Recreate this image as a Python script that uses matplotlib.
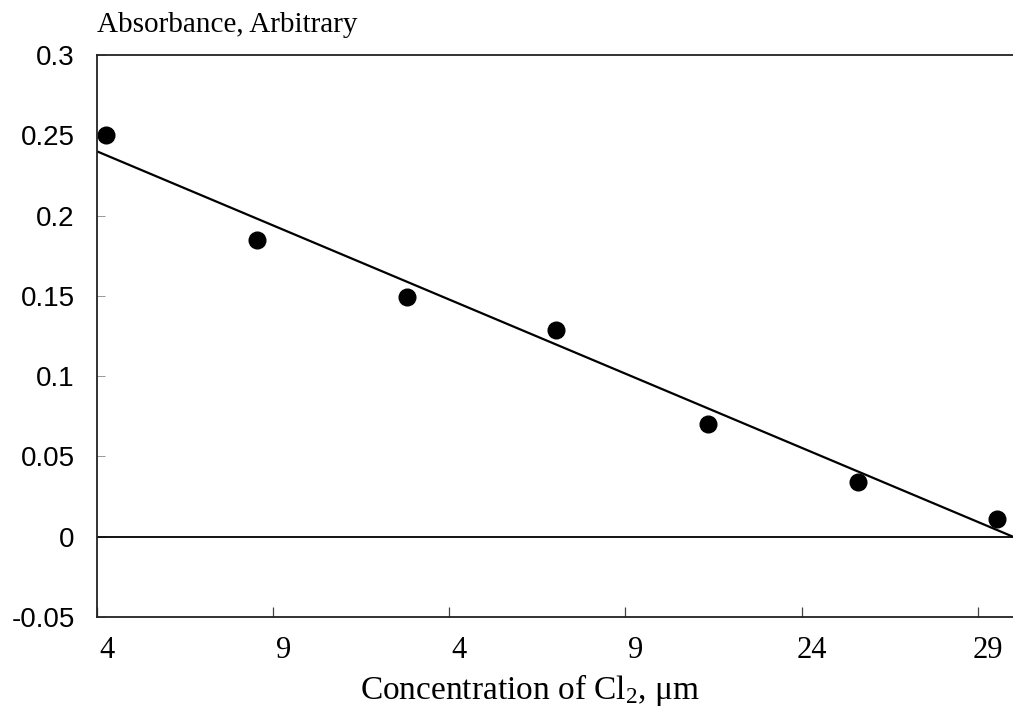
import matplotlib
matplotlib.use("Agg")
import matplotlib.pyplot as plt
import matplotlib.transforms as mtransforms

# Measured absorbance versus chlorine concentration
concentration = [4.26, 8.55, 12.8, 17.04, 21.33, 25.6, 29.54]
absorbance = [0.250, 0.185, 0.149, 0.129, 0.070, 0.034, 0.011]

# Linear fit endpoints
fit_x = [4, 30]
fit_y = [0.240, 0.0]

x_ticks = [4, 9, 14, 19, 24, 29]
x_tick_labels = ["4", "9", "4", "9", "24", "29"]
y_ticks = [-0.05, 0, 0.05, 0.1, 0.15, 0.2, 0.25, 0.3]
y_tick_labels = ["-0.05", "0", "0.05", "0.1", "0.15", "0.2", "0.25", "0.3"]

plt.rcParams["font.family"] = ["Liberation Serif", "DejaVu Serif"]
plt.rcParams["mathtext.fontset"] = "custom"
plt.rcParams["mathtext.rm"] = "Liberation Serif"
plt.rcParams["mathtext.it"] = "Liberation Serif:italic"

fig = plt.figure(figsize=(10.13, 7.11), dpi=100)
ax = fig.add_axes([0.0958, 0.1322, 0.9042, 0.7904])

ax.plot(fit_x, fit_y, color="black", lw=1.6, solid_capstyle="butt", clip_on=False)
ax.plot(concentration, absorbance, "o", color="black", markersize=12, clip_on=False)
ax.axhline(0, color="black", lw=1.3)

ax.set_xlim(4, 30)
ax.set_ylim(-0.05, 0.3)

ax.spines["right"].set_visible(False)
for s in ("left", "top", "bottom"):
    ax.spines[s].set_linewidth(1.3)
    ax.spines[s].set_color("#222222")

ax.set_xticks(x_ticks)
ax.set_xticklabels(x_tick_labels)
ax.set_yticks(y_ticks)
ax.set_yticklabels(y_tick_labels)
ax.tick_params(axis="x", direction="in", length=7, width=0.9, pad=14, labelsize=22, color="#444444")
ax.tick_params(axis="y", direction="in", length=6, width=0.6, pad=16, labelsize=20, color="#888888")
for lbl in ax.get_yticklabels():
    lbl.set_fontfamily(["Liberation Sans", "DejaVu Sans"])

# shift x tick labels slightly to the right of their tick marks
offset = mtransforms.ScaledTranslation(10 / 100, 0, fig.dpi_scale_trans)
for lbl in ax.get_xticklabels():
    lbl.set_transform(lbl.get_transform() + offset)

ax.set_xlabel(r"Concentration of Cl$_{\mathrm{2}}$, " + "\u03bcm", fontsize=24, labelpad=5)
ax.xaxis.label.set_x(0.473)
fig.text(0.0958, 0.965, "Absorbance, Arbitrary", fontsize=21, ha="left", va="center")

fig.savefig("out.png", dpi=100)
